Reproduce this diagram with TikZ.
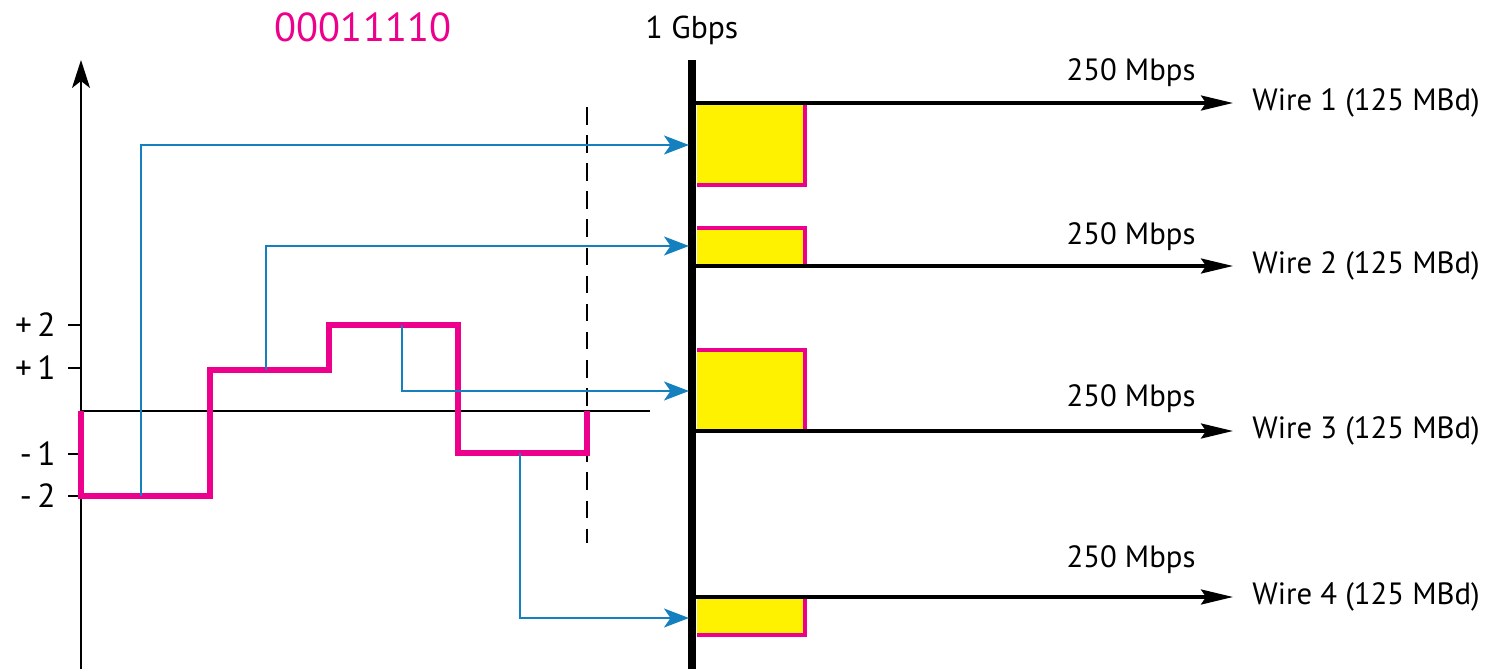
\documentclass[tikz,border=0pt]{standalone}
\usepackage{fontspec}
\setmainfont{PT Sans}
\usetikzlibrary{arrows.meta}
\definecolor{pinkc}{RGB}{236,0,140}
\definecolor{bluec}{RGB}{20,128,190}
\begin{document}
\begin{tikzpicture}[x=0.02cm,y=-0.02cm,
  sig/.style={pinkc,line width=3pt,line join=miter},
  link/.style={bluec,line width=1.2pt,-{Stealth[length=0.5cm,width=0.38cm,inset=0.13cm]}},
  wire/.style={black,line width=1.8pt,-{Stealth[length=0.64cm,width=0.3cm,inset=0.1cm]}},
  edge/.style={pinkc,line width=1.8pt},
  lbl/.style={font=\fontsize{17.5}{20}\selectfont,inner sep=0pt},
  tick/.style={black,line width=1pt}]
\useasboundingbox (0,0) rectangle (1492,669);
% title texts
\node[lbl,pinkc,font=\fontsize{23}{26}\selectfont] (bits) at (363,27) {00011110};
\node[lbl,font=\fontsize{18}{21}\selectfont] (gbps) at (692,30) {1 Gbps};
% axis
\coordinate (axb) at (81,669);
\coordinate (axt) at (81,60);
\draw[line width=1.1pt,-{Stealth[length=0.56cm,width=0.36cm,inset=0.14cm]}] (axb) -- (axt);
\coordinate (z0) at (81,411);
\coordinate (z1) at (650,411);
\draw[line width=1pt] (z0) -- (z1);
% ticks and labels
\foreach \yy/\tt/\nn in {325/{+\,2}/p2,368/{+\,1}/p1,454/{-\,1}/m1,496/{-\,2}/m2}{
  \draw[tick] (68,\yy) -- (81,\yy);
  \node[lbl,anchor=east,font=\fontsize{19}{22}\selectfont] (\nn) at (56,\yy) {\tt};
}
% dashed line
\coordinate (d1) at (587,107);
\coordinate (d2) at (587,543);
\draw[dashed,line width=1pt,dash pattern=on 10pt off 6pt] (d1) -- (d2);
% yellow boxes
\fill[yellow] (697,103) rectangle (805,185);
\draw[edge] (697,185) -- (805,185) -- (805,103);
\fill[yellow] (697,228) rectangle (805,266);
\draw[edge] (697,228) -- (805,228) -- (805,266);
\fill[yellow] (697,350) rectangle (805,431);
\draw[edge] (697,350) -- (805,350) -- (805,431);
\fill[yellow] (697,597) rectangle (805,635);
\draw[edge] (697,635) -- (805,635) -- (805,597);
% signal
\coordinate (s0) at (81,411);
\coordinate (s1) at (81,496);
\coordinate (s2) at (210,496);
\coordinate (s3) at (210,370);
\coordinate (s4) at (329,370);
\coordinate (s5) at (329,325);
\coordinate (s6) at (458,325);
\coordinate (s7) at (458,453);
\coordinate (s8) at (587,453);
\coordinate (s9) at (587,411);
\draw[sig] (s0) -- (s1) -- (s2) -- (s3) -- (s4) -- (s5) -- (s6) -- (s7) -- (s8) -- (s9);
% bus
\coordinate (bt) at (692,60);
\coordinate (bb) at (692,669);
\draw[line width=4.6pt] (bt) -- (bb);
% wires
\foreach \i/\yy/\ly in {1/103/73,2/266/237,3/431/399,4/597/560}{
  \coordinate (ws\i) at (696,\yy);
  \coordinate (we\i) at (1233,\yy);
  \draw[wire] (ws\i) -- (we\i);
  \node[lbl,anchor=west] (wl\i) at (1252,\yy) {Wire \i\ (125 MBd)};
  \node[lbl] (rate\i) at (1131,\ly) {250 Mbps};
}
% blue links
\coordinate (b1a) at (141,496); \coordinate (b1b) at (141,145); \coordinate (b1c) at (689,145);
\coordinate (b2a) at (266,370); \coordinate (b2b) at (266,246); \coordinate (b2c) at (689,246);
\coordinate (b3a) at (402,325); \coordinate (b3b) at (402,391); \coordinate (b3c) at (689,391);
\coordinate (b4a) at (520,453); \coordinate (b4b) at (520,618); \coordinate (b4c) at (689,618);
\draw[link] (b1a) -- (b1b) -- (b1c);
\draw[link] (b2a) -- (b2b) -- (b2c);
\draw[link] (b3a) -- (b3b) -- (b3c);
\draw[link] (b4a) -- (b4b) -- (b4c);
\end{tikzpicture}
\end{document}
